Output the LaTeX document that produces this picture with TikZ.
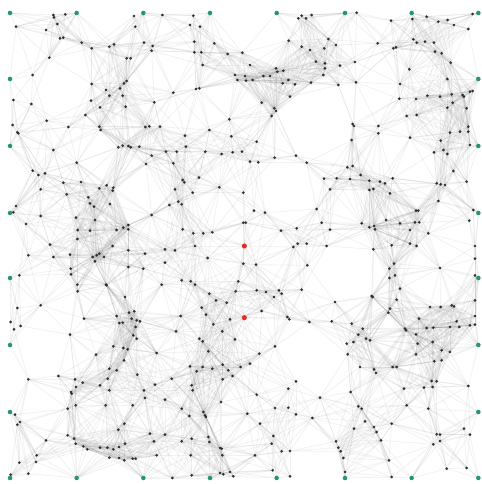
\documentclass[tikz,border=0pt]{standalone}
\pgfdeclarelayer{edgelayer}
\pgfsetlayers{edgelayer,main}
\definecolor{anchorgreen}{RGB}{38,150,108}
\definecolor{targetred}{RGB}{225,45,40}
\definecolor{dotgray}{RGB}{45,45,45}
\tikzset{
 dotk/.style={circle,fill=dotgray,inner sep=0pt,minimum size=2.2pt},
 dotg/.style={circle,fill=anchorgreen,inner sep=0pt,minimum size=3.4pt},
 dotr/.style={circle,fill=targetred,inner sep=0pt,minimum size=3.8pt},
 linkstyle/.style={draw=black!45,line width=0.6pt,opacity=0.11}
}
\newcount\nn \newcount\ii \newcount\jj \newcount\ddx \newcount\ddy \newcount\rr \newcount\rrsq
\nn=0
\def\addpt#1#2#3{\global\advance\nn by 1
 \expandafter\xdef\csname px\the\nn\endcsname{\the\numexpr#1\relax}%
 \expandafter\xdef\csname py\the\nn\endcsname{\the\numexpr#2\relax}%
 \expandafter\xdef\csname pk\the\nn\endcsname{#3}}
% anchors (green)
\foreach \v in {30,230,430,630,830,1035,1235,1435}{\addpt{\v}{39}{g}\addpt{\v}{1434}{g}}
\foreach \v in {237,438,639,834,1035,1236}{\addpt{30}{\v}{g}\addpt{1435}{\v}{g}}
% targets (red)
\addpt{733}{738}{r}
\addpt{733}{953}{r}
% upper half
\foreach \X/\Y in {1418/42,160/45,162/52,196/43,48/80,172/72,138/90,180/115,190/113,402/48,487/45,406/80,580/47,570/75,600/80,895/55,905/47,918/55,935/45,1070/38,1173/62,1237/57,1280/50,1315/65,1343/60,1362/75,1405/87,
245/128,275/145,328/140,342/133,432/128,458/138,455/152,583/125,583/157,604/157,643/130,683/162,727/158,866/122,905/140,930/150,973/145,985/117,1008/135,1133/130,1180/145,1188/142,1240/118,1250/128,1275/125,1302/128,1305/155,1325/160,1352/188,
148/173,380/175,392/175,608/195,750/195,948/185,975/190,975/205,1020/197,1065/186,1228/208,
98/225,275/252,318/270,360/265,372/250,380/243,328/287,368/287,520/278,588/267,598/265,705/225,712/240,735/228,738/242,758/240,790/228,810/228,828/205,832/215,850/212,865/240,848/250,885/253,933/248,970/225,1015/255,1068/247,1200/252,1342/237,1410/275,1418/273,1388/285,1392/290,1320/290,1282/287,1248/297,1198/296,1355/283,
40/300,94/312,273/302,300/322,377/320,463/307,256/345,785/308,823/325,828/333,815/348,870/290,688/358,1220/348,1250/345,1342/323,1358/308,1400/325,
38/375,52/397,55/400,140/362,205/381,298/380,302/390,436/381,448/379,480/380,555/407,628/390,694/409,770/425,1058/372,1062/378,1135/378,1135/400,1230/413,1350/398,1380/395,1405/395,1405/380,1322/422,1055/420,
160/450,355/442,368/437,385/438,392/442,418/440,455/467,498/455,530/455,558/440,616/455,665/462,698/457,726/455,750/485,775/487,824/473,888/467,920/488,230/488,438/492,520/490,1042/502,1058/498,1082/525,1342/462,1302/457,1330/450,1360/513,1410/435,
98/512,115/525,135/520,122/568,190/548,243/546,200/583,320/556,340/563,338/572,265/592,298/565,548/540,553/547,525/568,578/578,597/533,658/562,730/578,972/536,1010/535,1050/537,1108/542,1140/545,1155/550,1178/535,990/568,1108/570,1120/567,1170/580,1310/550,1322/553,1335/555,1400/545,1315/603,
40/637,48/618,122/648,78/672,228/653,270/610,282/620,330/612,285/660,233/690,270/692,350/690,370/683,385/688,385/675,455/645,535/605,545/613,508/615,548/688,580/700,610/700,637/697,730/668,737/668,762/632,795/638,843/692,890/685,950/627,965/668,990/689,1085/670,1108/682,1122/678,1125/688,1158/660,1200/670,1248/632,1255/632,1245/667,1258/667,1230/690,1285/700,1408/662,1420/630,232/717}{\addpt{\X}{\Y}{k}}
% lower half (offset 726)
\foreach \X/\Y in {150/8,85/40,160/45,210/38,278/45,290/40,298/35,312/45,285/58,338/12,385/25,435/35,495/22,525/25,585/12,623/48,880/15,893/5,920/5,980/12,1120/22,1175/10,1230/5,1250/12,1425/12,1425/50,495/62,430/80,385/75,
58/100,212/80,213/97,232/128,233/148,318/128,320/130,485/128,545/115,572/118,585/128,628/155,648/175,680/182,707/148,715/118,730/65,768/68,770/145,798/150,837/145,845/155,822/165,905/143,922/70,1005/180,1115/162,1118/165,1168/80,1182/65,1185/100,1200/140,1168/108,1320/78,1425/100,
52/198,122/190,375/165,350/222,358/243,368/242,387/212,403/208,395/230,410/235,420/238,407/255,400/280,410/290,252/230,210/278,542/222,528/268,618/218,605/197,640/247,667/268,690/232,785/207,862/225,868/232,928/240,995/238,1055/245,1170/200,1165/212,1190/173,1257/230,1290/195,1322/195,1355/190,1362/193,1370/238,1350/255,1378/255,1410/250,1425/248,1425/175,1425/222,1215/260,1218/265,1248/277,1280/258,1300/257,1040/305,1060/300,1075/278,1098/290,1088/260,1110/295,32/240,42/262,62/252,
288/338,340/313,370/318,383/322,372/355,350/385,328/380,470/333,598/290,608/298,625/328,705/292,778/335,825/313,750/365,722/375,685/385,668/368,637/380,608/375,590/388,570/373,1043/337,1080/375,1122/382,1128/393,1178/375,1190/375,1248/337,1253/305,1298/300,1325/325,1325/355,1303/358,1350/330,
85/412,175/402,225/412,213/450,215/455,228/435,248/422,300/430,323/410,328/445,412/398,432/445,465/428,515/410,575/430,578/445,668/412,698/402,770/458,888/418,865/440,960/467,1052/450,1212/440,1272/437,1295/417,1310/418,1298/435,1405/432,
45/518,60/540,52/548,203/500,227/490,317/490,373/545,355/563,398/490,435/468,495/473,545/500,568/522,610/510,615/520,618/525,663/480,742/515,780/545,825/498,865/497,888/517,937/528,1075/493,1085/500,1095/538,1122/555,1130/570,1062/560,1175/545,1220/490,1285/500,1310/577,1320/578,1392/560,1410/578,1300/607,
138/595,203/580,222/590,227/605,250/613,262/622,300/617,322/617,340/622,357/615,375/605,450/575,462/598,495/578,545/598,575/590,625/585,628/600,660/618,665/620,667/640,572/640,470/640,328/647,357/648,373/655,398/650,407/650,765/640,815/605,820/582,845/628,870/627,1008/598,1015/617,1022/628,1030/648,1143/595,1167/655,1320/597,110/640,108/660,58/662,
32/698,85/695,517/708,575/700,660/693,670/697,690/690,700/703,818/685,870/703,1035/690,1175/705,1340/680,1400/678}{\addpt{\X}{\Y+726}{k}}
\def\drawnode{\edef\tmpcmd{\noexpand\node[dot\csname pk\the\ii\endcsname] (n\the\ii) at (\csname px\the\ii\endcsname,\csname py\the\ii\endcsname) {};}\tmpcmd}
\def\nodeloop{\ifnum\ii<\nn \advance\ii by 1 \drawnode \expandafter\nodeloop\fi}
\def\testpair{%
 \ddx=\numexpr\csname px\the\ii\endcsname-\csname px\the\jj\endcsname\relax
 \ifnum\ddx<0 \ddx=-\ddx\fi
 \ifnum\ddx<\rr
  \ddy=\numexpr\csname py\the\ii\endcsname-\csname py\the\jj\endcsname\relax
  \ifnum\ddy<0 \ddy=-\ddy\fi
  \ifnum\ddy<\rr
   \ifnum\numexpr\ddx*\ddx+\ddy*\ddy\relax<\rrsq
    \edef\tmpcmd{\noexpand\draw[linkstyle] (n\the\ii.center) -- (n\the\jj.center);}\tmpcmd
   \fi
  \fi
 \fi}
\def\innerloop{\ifnum\jj<\nn \advance\jj by 1 \testpair \expandafter\innerloop\fi}
\def\outerloop{\ifnum\ii<\nn \advance\ii by 1 \jj=\ii \innerloop \expandafter\outerloop\fi}
\begin{document}
\begin{tikzpicture}[x=0.25pt,y=-0.25pt]
\useasboundingbox (0,0) rectangle (1443,1452);
\begin{pgfonlayer}{edgelayer}
\fill[white] (0,0) rectangle (1443,1452);
\end{pgfonlayer}
\ii=0 \nodeloop
\rr=160 \rrsq=25600
\begin{pgfonlayer}{edgelayer}
\ii=0 \outerloop
\end{pgfonlayer}
\end{tikzpicture}
\end{document}
